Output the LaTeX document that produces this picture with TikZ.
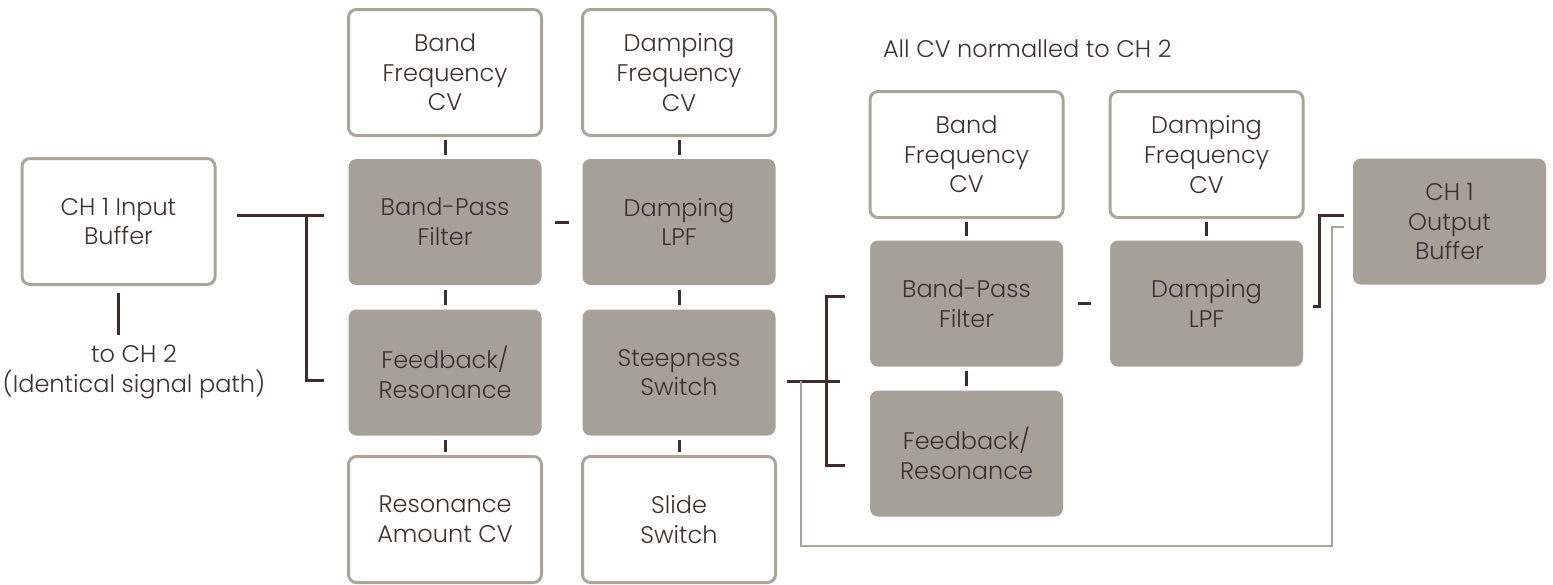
\documentclass[tikz,border=0pt]{standalone}
\usepackage{fontspec}
\setmainfont{Poppins}[UprightFont=* Light]
\usepackage{xcolor}
\usepackage{tikz}
\usetikzlibrary{positioning,calc}
\definecolor{blockc}{HTML}{A7A096}
\definecolor{framec}{HTML}{ABA49A}
\definecolor{wirec}{HTML}{3E2C2F}
\definecolor{textc}{HTML}{3C2F30}

\begin{document}
\begin{tikzpicture}[x=0.5pt, y=-0.5pt,
  font=\fontsize{12}{14.8}\selectfont, text=textc,
  ctrl/.style={draw=framec, line width=1.5pt, fill=white, rounded corners=4pt, align=center,
    minimum width=96.5pt, minimum height=63pt, inner sep=0pt},
  proc/.style={ctrl, draw=none, fill=blockc},
  wire/.style={draw=wirec, line width=1.5pt},
  tick/.style={wire, shorten <=1.5pt, shorten >=1.5pt},
  gapline/.style={wire, shorten <=6pt, shorten >=6pt},
  return/.style={draw=framec, line width=1.4pt}]
  \useasboundingbox (0,0) rectangle (1553,584);

  % channel 1 input
  \node[ctrl] (in) at (118.5,221.5) {CH 1 Input\\Buffer};
  \node[align=center] (toch2) at (134,372) {to CH 2\\(Identical signal path)};
  \coordinate (ch2end) at (118.5,335);

  % first stage
  \node[ctrl] (bfcv1) at (445,72.5) {Band\\Frequency\\CV};
  \node[proc] (bpf1) at (445,222) {Band-Pass\\Filter};
  \node[proc] (fb1) at (445,372.5) {Feedback/\\Resonance};
  \node[ctrl] (rcv) at (445,519.5) {Resonance\\Amount CV};
  \node[ctrl] (dfcv1) at (679,72.5) {Damping\\Frequency\\CV};
  \node[proc] (dlpf1) at (679,222) {Damping\\LPF};
  \node[proc] (steep) at (679,372.5) {Steepness\\Switch};
  \node[ctrl] (slide) at (679,519.5) {Slide\\Switch};

  % second stage
  \node[anchor=west] (norm) at (876,49) {All CV normalled to CH 2};
  \node[ctrl] (bfcv2) at (966.5,154.5) {Band\\Frequency\\CV};
  \node[proc] (bpf2) at (966.5,303.5) {Band-Pass\\Filter};
  \node[proc] (fb2) at (966.5,453.5) {Feedback/\\Resonance};
  \node[ctrl] (dfcv2) at (1206.5,154.5) {Damping\\Frequency\\CV};
  \node[proc] (dlpf2) at (1206.5,303.5) {Damping\\LPF};

  % output
  \node[proc] (out) at (1449.5,221.5) {CH 1\\Output\\Buffer};

  \foreach \a/\b in {bfcv1/bpf1, bpf1/fb1, fb1/rcv, dfcv1/dlpf1, dlpf1/steep, steep/slide,
                     bfcv2/bpf2, bpf2/fb2, dfcv2/dlpf2}
    \draw[tick] (\a) -- (\b);
  \draw[gapline] (bpf1) -- (dlpf1);
  \draw[gapline, shorten <=6.5pt, shorten >=9pt] (bpf2) -- (dlpf2);

  \draw[wire, shorten <=3.5pt] (in.south) -- (ch2end);
  \draw[wire] ([xshift=10pt,yshift=3.25pt]in.east) -- ([xshift=-11.5pt,yshift=3.5pt]bpf1.west);
  \draw[wire] ([xshift=-20.5pt,yshift=3.5pt]bpf1.west) |- ([xshift=-11.5pt,yshift=-3.75pt]fb1.west);

  \draw[wire] ([xshift=5pt,yshift=-4.25pt]steep.east) -- ++(26.5pt,0);
  \draw[wire] ([xshift=-12pt,yshift=3.5pt]bpf2.west) -- ++(-9pt,0) |- ([xshift=-12pt,yshift=-5.75pt]fb2.west);
  \draw[wire] ([xshift=4pt,yshift=-1.5pt]dlpf2.east) -- ++(3.5pt,0) |- ([xshift=-4pt,yshift=3.25pt]out.west);

  \coordinate (retlow) at (1332,546);
  \draw[return] ([xshift=12pt,yshift=-4.25pt]steep.east) |- (retlow) |- ([xshift=-4pt,yshift=-2.75pt]out.west);
\end{tikzpicture}
\end{document}
